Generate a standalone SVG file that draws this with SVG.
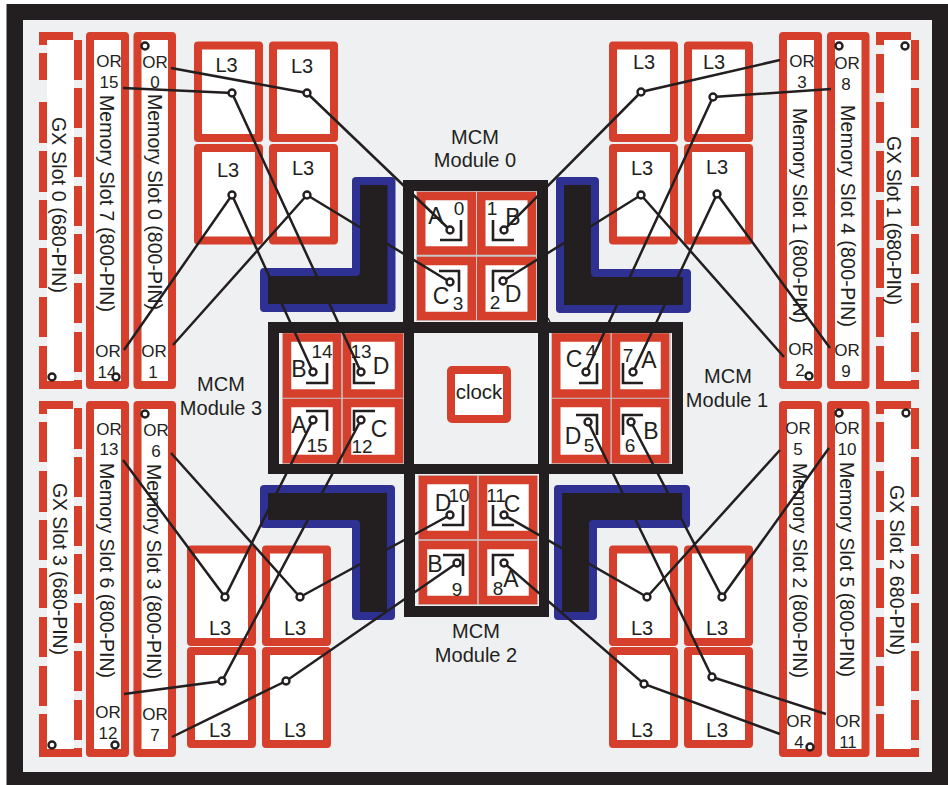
<svg xmlns="http://www.w3.org/2000/svg" width="948" height="785" viewBox="0 0 948 785">
<style>
text{font-family:"Liberation Sans",Arial,sans-serif;fill:#231f20;text-anchor:middle}
.s{fill:#fff;stroke:#d63f2b;stroke-width:8;stroke-linejoin:round}
.c{fill:#fff;stroke:#d63f2b;stroke-width:8.5}
.g{fill:#fff}
.d{fill:none;stroke:#d63f2b;stroke-width:8}
.l3{font-size:20px}
.or{font-size:17px}
.v{font-size:19.5px;text-anchor:start}
.m{font-size:20px}
.k{font-size:23px}
.n{font-size:19px}
.b{fill:none;stroke:#231f20;stroke-width:2.6}
.bl{fill:#231f20;stroke:#2e3192;stroke-width:8;stroke-linejoin:round}
.w{fill:none;stroke:#231f20;stroke-width:2.5}
.p{fill:#fff;stroke:#231f20;stroke-width:2.4}
</style>
<g id="board">
<rect x="6.5" y="4" width="941.5" height="781" fill="#231f20"/>
<rect x="23" y="20" width="909" height="752" fill="#eef0f2"/>
</g>
<g id="gx-slot-0">
<rect x="47" y="40" width="27" height="341" class="g"/>
<path class="d" d="M39 36H73M43 381V385H82M43 32V45M43 53V80M43 102V143M43 151V192M43 200V240M43 248V288M43 297V337M43 346V385M78 40V80M78 88V128M78 137V177M78 186V226M78 234V274M78 283V323M78 332V372M78 380V389"/>
<text class="v" transform="translate(52 117) rotate(90)" textLength="176">GX Slot  0 (680-PIN)</text>
<circle class="p" cx="52" cy="377" r="3.5"/>
</g>
<g id="memory-slot-7">
<rect x="90" y="36" width="35" height="349" class="s"/>
<text class="v" transform="translate(100 95) rotate(90)" textLength="217">Memory Slot 7 (800-PIN)</text>
<text class="or" x="109" y="67">OR</text><text class="or" x="109" y="88">15</text>
<text class="or" x="108" y="357">OR</text><text class="or" x="107" y="378">14</text>
<circle class="p" cx="116" cy="377" r="3.5"/>
</g>
<g id="memory-slot-0">
<rect x="137.500" y="36" width="34.500" height="349" class="s"/>
<text class="v" transform="translate(148 94) rotate(90)" textLength="216">Memory Slot 0 (800-PIN)</text>
<text class="or" x="155" y="67.500">OR</text><text class="or" x="155" y="88">0</text>
<text class="or" x="154" y="357">OR</text><text class="or" x="153" y="378">1</text>
<circle class="p" cx="145" cy="46" r="3.5"/>
</g>
<g id="gx-slot-3">
<rect x="47" y="409" width="27" height="340" class="g"/>
<path class="d" d="M39 405H73M43 749V753H82M43 401V414M43 422V462M43 471V512M43 520V560M43 568V608M43 617V657M43 666V706M43 714V753M78 408V449M78 457V497M78 506V546M78 554V594M78 603V643M78 651V691M78 700V740M78 748V757"/>
<text class="v" transform="translate(53 483) rotate(90)" textLength="172">GX Slot 3 (680-PIN)</text>
<circle class="p" cx="52" cy="745" r="3.5"/>
</g>
<g id="memory-slot-6">
<rect x="90" y="405" width="35" height="348" class="s"/>
<text class="v" transform="translate(100 463) rotate(90)" textLength="215">Memory Slot 6 (800-PIN)</text>
<text class="or" x="109" y="435">OR</text><text class="or" x="109" y="455">13</text>
<text class="or" x="108" y="718">OR</text><text class="or" x="108" y="739">12</text>
<circle class="p" cx="115" cy="745" r="3.5"/>
</g>
<g id="memory-slot-3">
<rect x="137.500" y="405" width="34.500" height="348" class="s"/>
<text class="v" transform="translate(147 464) rotate(90)" textLength="215">Memory Slot 3 (800-PIN)</text>
<text class="or" x="156" y="436">OR</text><text class="or" x="156" y="457">6</text>
<text class="or" x="155" y="720">OR</text><text class="or" x="155" y="741">7</text>
<circle class="p" cx="145" cy="414" r="3.5"/>
</g>
<g id="memory-slot-1">
<rect x="783" y="36" width="35" height="349" class="s"/>
<text class="v" transform="translate(793 108) rotate(90)" textLength="215">Memory Slot 1  (800-PIN)</text>
<text class="or" x="802" y="67">OR</text><text class="or" x="802" y="88">3</text>
<text class="or" x="801" y="355">OR</text><text class="or" x="800" y="376">2</text>
<circle class="p" cx="809" cy="376" r="3.5"/>
</g>
<g id="memory-slot-4">
<rect x="831" y="36" width="34.500" height="349" class="s"/>
<text class="v" transform="translate(841 105) rotate(90)" textLength="222">Memory Slot 4  (800-PIN)</text>
<text class="or" x="847" y="69">OR</text><text class="or" x="846" y="90">8</text>
<text class="or" x="847" y="356">OR</text><text class="or" x="846" y="377">9</text>
<circle class="p" cx="839" cy="46" r="3.5"/>
</g>
<g id="gx-slot-1">
<rect x="884" y="40" width="27" height="341" class="g"/>
<path class="d" d="M876 36H911M880 381V385H919M880 32V45M880 54V93M880 102V143M880 151V192M880 200V240M880 248V288M880 297V337M880 346V385M915 40V80M915 88V128M915 137V177M915 186V226M915 234V274M915 283V323M915 332V372M915 380V389"/>
<text class="v" transform="translate(887 136) rotate(90)" textLength="169">GX Slot 1 (680-PIN)</text>
<circle class="p" cx="905" cy="46" r="3.5"/>
</g>
<g id="memory-slot-2">
<rect x="783" y="405" width="35" height="348" class="s"/>
<text class="v" transform="translate(793 463) rotate(90)" textLength="215">Memory Slot 2 (800-PIN)</text>
<text class="or" x="798" y="434">OR</text><text class="or" x="798" y="455">5</text>
<text class="or" x="799" y="727">OR</text><text class="or" x="799" y="748">4</text>
<circle class="p" cx="810" cy="747" r="3.5"/>
</g>
<g id="memory-slot-5">
<rect x="831" y="405" width="34.500" height="348" class="s"/>
<text class="v" transform="translate(840 462) rotate(90)" textLength="215">Memory Slot 5 (800-PIN)</text>
<text class="or" x="847" y="434">OR</text><text class="or" x="847" y="455">10</text>
<text class="or" x="848" y="727">OR</text><text class="or" x="848" y="748">11</text>
<circle class="p" cx="839" cy="413" r="3.5"/>
</g>
<g id="gx-slot-2">
<rect x="884" y="409" width="27" height="340" class="g"/>
<path class="d" d="M876 405H911M880 749V753H919M880 401V414M880 422V462M880 471V512M880 520V560M880 568V608M880 617V657M880 666V706M880 714V753M915 408V449M915 457V497M915 506V546M915 554V594M915 603V643M915 651V691M915 700V740M915 748V757"/>
<text class="v" transform="translate(890 485) rotate(90)" textLength="170">GX Slot  2 680-PIN)</text>
<circle class="p" cx="906" cy="413" r="3.5"/>
</g>
<g id="l3-top-left">
<rect x="198" y="45.500" width="61" height="92.500" class="s"/><text class="l3" x="226.500" y="72">L3</text>
<rect x="273" y="45.500" width="61" height="92.500" class="s"/><text class="l3" x="302" y="73">L3</text>
<rect x="198" y="148" width="61" height="92.500" class="s"/><text class="l3" x="228" y="177">L3</text>
<rect x="273" y="148" width="61" height="92.500" class="s"/><text class="l3" x="303" y="175">L3</text>
</g>
<g id="l3-top-right">
<rect x="613" y="45.500" width="61" height="92.500" class="s"/><text class="l3" x="644" y="69">L3</text>
<rect x="688" y="45.500" width="61" height="92.500" class="s"/><text class="l3" x="714" y="69">L3</text>
<rect x="613" y="148" width="61" height="92.500" class="s"/><text class="l3" x="642" y="175">L3</text>
<rect x="688" y="148" width="61" height="92.500" class="s"/><text class="l3" x="717" y="174">L3</text>
</g>
<g id="l3-bottom-left">
<rect x="191" y="549.500" width="61" height="92.500" class="s"/><text class="l3" x="220" y="635">L3</text>
<rect x="266" y="549.500" width="61" height="92.500" class="s"/><text class="l3" x="295" y="635">L3</text>
<rect x="191" y="651" width="61" height="93" class="s"/><text class="l3" x="220" y="737">L3</text>
<rect x="266" y="651" width="61" height="93" class="s"/><text class="l3" x="295" y="737">L3</text>
</g>
<g id="l3-bottom-right">
<rect x="613" y="549.500" width="61" height="92.500" class="s"/><text class="l3" x="642" y="635">L3</text>
<rect x="688" y="549.500" width="61" height="92.500" class="s"/><text class="l3" x="717" y="635">L3</text>
<rect x="613" y="651" width="61" height="93" class="s"/><text class="l3" x="642" y="737">L3</text>
<rect x="688" y="651" width="61" height="93" class="s"/><text class="l3" x="717" y="737">L3</text>
</g>
<g id="heat-sinks">
<path class="bl" d="M356 181H391.500V308H264V272H356Z"/>
<path class="bl" d="M560 181H595V273H687V309H560Z"/>
<path class="bl" d="M264 489H391V616H356V524H264Z"/>
<path class="bl" d="M558 489H686V524H593V616H558Z"/>
</g>
<g id="mcm-frame">
<path d="M548 318L556 335" fill="none" stroke="#231f20" stroke-width="1.500"/>
<rect x="403" y="180" width="145" height="153" fill="#231f20"/>
<rect x="268" y="322" width="415" height="152" fill="#231f20"/>
<rect x="404" y="470" width="145" height="147" fill="#231f20"/>
<rect x="414" y="191" width="123" height="131" fill="#eef0f2"/>
<rect x="279" y="333" width="124" height="131" fill="#eef0f2"/>
<rect x="414" y="333" width="124" height="131" fill="#eef0f2"/>
<rect x="549" y="333" width="123" height="131" fill="#eef0f2"/>
<rect x="415" y="474" width="124" height="132" fill="#eef0f2"/>
</g>
<g id="clock">
<rect x="451" y="370" width="56" height="49" rx="1" class="s"/>
<text x="479" y="399" font-size="20.500">clock</text>
</g>
<g id="mcm-module-0">
<rect x="416" y="191" width="121" height="130" fill="#c6c8ca"/>
<rect x="421.250" y="196" width="50.500" height="54.500" class="c"/>
<rect x="481.250" y="196" width="50.500" height="54.500" class="c"/>
<rect x="421.250" y="261" width="50.500" height="55" class="c"/>
<rect x="481.250" y="261" width="50.500" height="55" class="c"/>
<path class="b" d="M440 240H461V220M493 220V240H514M439 271H459V292M493 292V271H514"/>
<text class="k" x="436" y="224">A</text><text class="n" x="459" y="215">0</text>
<text class="n" x="492" y="215">1</text><text class="k" x="513" y="225">B</text>
<text class="k" x="441" y="304">C</text><text class="n" x="458" y="310">3</text>
<text class="n" x="495" y="309">2</text><text class="k" x="513" y="302">D</text>
<text class="m" x="475" y="144">MCM</text><text class="m" x="475" y="167">Module 0</text>
</g>
<g id="mcm-module-3">
<rect x="282" y="333" width="122" height="131" fill="#c6c8ca"/>
<rect x="287" y="337.500" width="50" height="56" class="c"/>
<rect x="347" y="337.500" width="52" height="56" class="c"/>
<rect x="287" y="403" width="50" height="56" class="c"/>
<rect x="347" y="403" width="52" height="56" class="c"/>
<path class="b" d="M306 383H327V363M354 363V383H375M306 411H327V431M354 431V411H375"/>
<text class="k" x="299" y="377">B</text><text class="n" x="322" y="358">14</text>
<text class="k" x="381" y="374">D</text><text class="n" x="361" y="358">13</text>
<text class="k" x="299" y="433">A</text><text class="n" x="317" y="452">15</text>
<text class="k" x="379" y="437">C</text><text class="n" x="362" y="453">12</text>
<text class="m" x="221" y="391">MCM</text><text class="m" x="221" y="415">Module 3</text>
</g>
<g id="mcm-module-1">
<rect x="551" y="333" width="120" height="131" fill="#c6c8ca"/>
<rect x="556.250" y="337.500" width="50" height="56" class="c"/>
<rect x="616" y="337.500" width="49" height="56" class="c"/>
<rect x="556.250" y="403" width="50" height="56" class="c"/>
<rect x="616" y="403" width="49" height="56" class="c"/>
<path class="b" d="M579 383H597V363M623 363V383H643M576 415H597V435M623 435V415H643"/>
<text class="k" x="574" y="367">C</text><text class="n" x="591" y="358">4</text>
<text class="k" x="649" y="368">A</text><text class="n" x="628" y="362">7</text>
<text class="k" x="573" y="444">D</text><text class="n" x="589" y="452">5</text>
<text class="k" x="651" y="439">B</text><text class="n" x="630" y="452">6</text>
<text class="m" x="728" y="383">MCM</text><text class="m" x="727" y="407">Module 1</text>
</g>
<g id="mcm-module-2">
<rect x="418" y="475" width="120" height="130" fill="#c6c8ca"/>
<rect x="423" y="480" width="50" height="55" class="c"/>
<rect x="483" y="480" width="50" height="55" class="c"/>
<rect x="423" y="545" width="50" height="55" class="c"/>
<rect x="483" y="545" width="50" height="55" class="c"/>
<path class="b" d="M442 525H463V505M493 505V525H514M443 555H463V576M493 576V555H514"/>
<text class="k" x="443" y="511">D</text><text class="n" x="459" y="502">10</text>
<text class="k" x="512" y="512">C</text><text class="n" x="496" y="502">11</text>
<text class="k" x="435" y="572">B</text><text class="n" x="457" y="596">9</text>
<text class="k" x="511" y="587">A</text><text class="n" x="498" y="595">8</text>
<text class="m" x="476" y="638">MCM</text><text class="m" x="476" y="662">Module 2</text>
</g>
<g id="connectors">
<polyline class="w" points="171,68 307,93 450,230"/>
<polyline class="w" points="123,88 232,93 361,372"/>
<polyline class="w" points="124,350 232,195 313,372"/>
<polyline class="w" points="173,345 307,195 450,282"/>
<polyline class="w" points="780,60 641,92 504,230"/>
<polyline class="w" points="831,89 713,97 586,372"/>
<polyline class="w" points="784,357 641,195 503,281"/>
<polyline class="w" points="830,348 717,194 633,372"/>
<polyline class="w" points="123,460 225,597 313,420"/>
<polyline class="w" points="171,453 300,597 450,515"/>
<polyline class="w" points="124,694 222,681 361,420"/>
<polyline class="w" points="172,737 286,681 457,563"/>
<polyline class="w" points="780,450 647,597 504,515"/>
<polyline class="w" points="829,448 722,597 631,422"/>
<polyline class="w" points="780,734 644,684 504,563"/>
<polyline class="w" points="826,714 712,677 588,422"/>
</g>
<g id="pins">
<circle class="p" cx="307" cy="93" r="3.5"/><circle class="p" cx="232" cy="93" r="3.5"/><circle class="p" cx="232" cy="195" r="3.5"/><circle class="p" cx="307" cy="195" r="3.5"/>
<circle class="p" cx="641" cy="92" r="3.5"/><circle class="p" cx="713" cy="97" r="3.5"/><circle class="p" cx="641" cy="195" r="3.5"/><circle class="p" cx="717" cy="194" r="3.5"/>
<circle class="p" cx="225" cy="597" r="3.5"/><circle class="p" cx="300" cy="597" r="3.5"/><circle class="p" cx="222" cy="681" r="3.5"/><circle class="p" cx="286" cy="681" r="3.5"/>
<circle class="p" cx="647" cy="597" r="3.5"/><circle class="p" cx="722" cy="597" r="3.5"/><circle class="p" cx="644" cy="684" r="3.5"/><circle class="p" cx="712" cy="677" r="3.5"/>
<circle class="p" cx="450" cy="230" r="3.5"/><circle class="p" cx="504" cy="230" r="3.5"/><circle class="p" cx="450" cy="282" r="3.5"/><circle class="p" cx="503" cy="281" r="3.5"/>
<circle class="p" cx="313" cy="372" r="3.5"/><circle class="p" cx="361" cy="372" r="3.5"/><circle class="p" cx="313" cy="420" r="3.5"/><circle class="p" cx="361" cy="420" r="3.5"/>
<circle class="p" cx="586" cy="372" r="3.5"/><circle class="p" cx="633" cy="372" r="3.5"/><circle class="p" cx="588" cy="422" r="3.5"/><circle class="p" cx="631" cy="422" r="3.5"/>
<circle class="p" cx="450" cy="515" r="3.5"/><circle class="p" cx="504" cy="515" r="3.5"/><circle class="p" cx="457" cy="563" r="3.5"/><circle class="p" cx="504" cy="563" r="3.5"/>
</g>
</svg>
